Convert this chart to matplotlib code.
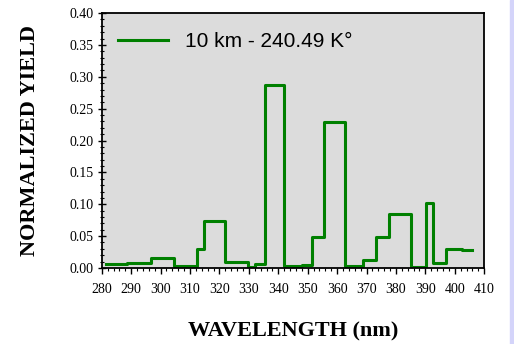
import numpy as np
import matplotlib.pyplot as plt
from matplotlib.patches import Rectangle
from matplotlib.ticker import MultipleLocator

# bin edges (nm) and normalized yield per bin
edges = [281.6, 288.6, 296.7, 304.5, 312.5, 314.6, 322.0, 329.6, 332.0,
         335.4, 342.1, 348.1, 351.6, 355.6, 362.6, 368.9, 373.3, 377.8,
         385.1, 390.1, 392.7, 397.0, 402.6, 405.9]
yields = [0.0058, 0.0073, 0.016, 0.003, 0.030, 0.074, 0.009, 0.0016, 0.006,
          0.287, 0.0037, 0.005, 0.048, 0.229, 0.003, 0.0126, 0.048, 0.085,
          0.0016, 0.102, 0.008, 0.030, 0.028]
label = '10 km - 240.49 K°'

fig = plt.figure(figsize=(5.14, 3.44), dpi=100)
ax = fig.add_axes([0.198, 0.221, 0.744, 0.741])
ax.set_facecolor('#DCDCDC')

# light stripe at the right edge of the original page
fig.patches.append(Rectangle((0.992, 0), 0.008, 1, transform=fig.transFigure,
                             color='#D4D4FA', zorder=-1))

ax.step(edges, yields + [yields[-1]], where='post', color='#008000',
        lw=2.2, label=label)

ax.set_xlim(280, 410)
ax.set_ylim(0, 0.40)
ax.xaxis.set_major_locator(MultipleLocator(10))
ax.xaxis.set_minor_locator(MultipleLocator(2))
ax.yaxis.set_major_locator(MultipleLocator(0.05))
ax.yaxis.set_minor_locator(MultipleLocator(0.01))
ax.yaxis.set_major_formatter(plt.FormatStrFormatter('%.2f'))

ax.tick_params(axis='x', which='major', direction='out', length=4, width=1,
               labelsize=10, pad=7)
ax.tick_params(axis='x', which='minor', direction='out', length=2, width=0.8)
ax.tick_params(axis='y', which='major', direction='inout', length=6, width=1,
               labelsize=10, pad=3)
ax.tick_params(axis='y', which='minor', direction='inout', length=3, width=0.8)
for t in ax.get_xticklabels() + ax.get_yticklabels():
    t.set_family('Liberation Serif')

for s in ax.spines.values():
    s.set_linewidth(1.3)

ax.set_xlabel('WAVELENGTH (nm)', family='Liberation Serif', weight='bold',
              fontsize=16, labelpad=18)
ax.set_ylabel('NORMALIZED YIELD', family='Liberation Serif', weight='bold',
              fontsize=16, labelpad=21)

leg = ax.legend(loc='upper left', frameon=False,
                prop={'family': 'Liberation Sans', 'size': 15},
                handlelength=2.4, borderaxespad=0.4, bbox_to_anchor=(0.0, 0.99))

fig.savefig('out.png', dpi=100)
